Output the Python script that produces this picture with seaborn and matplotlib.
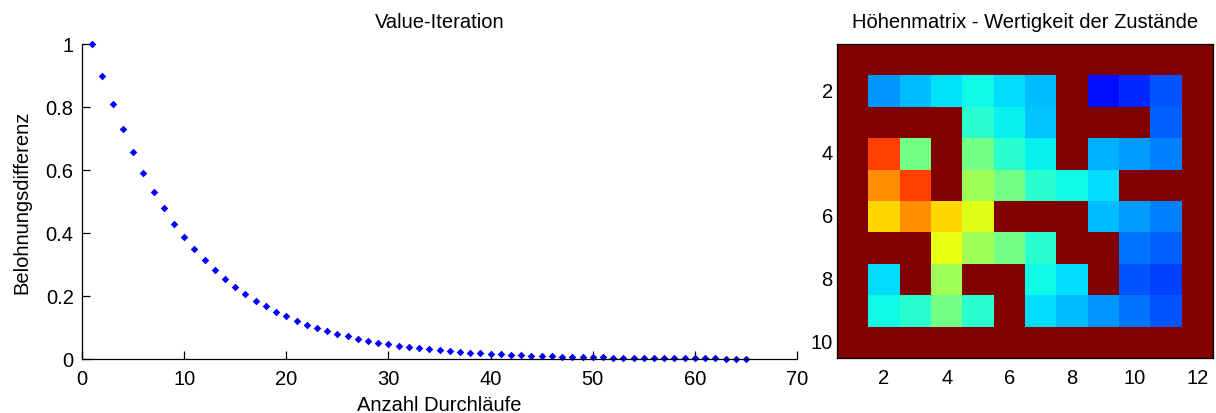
import numpy as np
import pandas as pd
import matplotlib
matplotlib.use("Agg")
import matplotlib.pyplot as plt
import seaborn as sns

# ---- Data: left chart (reward difference per iteration) ----
iterations = list(range(1, 66))
reward_diff = [1.0, 0.9, 0.81, 0.73, 0.656, 0.59, 0.53, 0.478, 0.43, 0.387,
               0.349, 0.314, 0.282, 0.254, 0.229, 0.206, 0.185, 0.167, 0.150, 0.135,
               0.122, 0.109, 0.098, 0.089, 0.080, 0.072, 0.065, 0.058, 0.052, 0.047,
               0.042, 0.038, 0.034, 0.031, 0.028, 0.025, 0.023, 0.020, 0.018, 0.016,
               0.015, 0.013, 0.012, 0.011, 0.0097, 0.0087, 0.0079, 0.0071, 0.0064, 0.0057,
               0.0052, 0.0046, 0.0042, 0.0038, 0.0034, 0.0031, 0.0027, 0.0025, 0.0022, 0.0020,
               0.0018, 0.0016, 0.0015, 0.0013, 0.0012]

# ---- Data: right chart (value matrix, walls = 1.0) ----
W = 1.0
row1 = [W, W, W, W, W, W, W, W, W, W, W, W]
row2 = [W, 0.27, 0.31, 0.345, 0.37, 0.34, 0.31, W, 0.14, 0.165, 0.21, W]
row3 = [W, W, W, W, 0.40, 0.36, 0.32, W, W, W, 0.22, W]
row4 = [W, 0.84, 0.49, W, 0.49, 0.40, 0.36, W, 0.30, 0.28, 0.25, W]
row5 = [W, 0.76, 0.84, W, 0.545, 0.49, 0.40, 0.37, 0.34, W, W, W]
row6 = [W, 0.68, 0.76, 0.68, 0.62, W, W, W, 0.31, 0.28, 0.25, W]
row7 = [W, W, W, 0.63, 0.545, 0.49, 0.40, W, W, 0.24, 0.22, W]
row8 = [W, 0.34, W, 0.545, W, W, 0.37, 0.34, W, 0.21, 0.19, W]
row9 = [W, 0.37, 0.40, 0.49, 0.40, W, 0.34, 0.31, 0.27, 0.24, 0.21, W]
row10 = [W, W, W, W, W, W, W, W, W, W, W, W]
matrix_rows = [row1, row2, row3, row4, row5, row6, row7, row8, row9, row10]

left_xticks = [0, 10, 20, 30, 40, 50, 60, 70]
left_yticks = [0, 0.2, 0.4, 0.6, 0.8, 1.0]
left_yticklabels = ["0", "0.2", "0.4", "0.6", "0.8", "1"]
right_xticklabels = ["2", "4", "6", "8", "10", "12"]
right_yticklabels = ["2", "4", "6", "8", "10"]

sns.set_theme(style="ticks")
plt.rcParams['font.family'] = ['Liberation Sans', 'DejaVu Sans']
FS = 14.5

fig = plt.figure(figsize=(12.16, 4.14), dpi=100)

# ---- Left chart ----
ax1 = fig.add_axes([82/1216, 54/414, 715/1216, 315/414])
df = pd.DataFrame({"Durchlauf": iterations, "Diff": reward_diff})
sns.scatterplot(data=df, x="Durchlauf", y="Diff", ax=ax1, marker="D",
                color=(0, 0, 1), s=15, linewidth=0, legend=False, clip_on=False)
ax1.set_xlim(0, 70)
ax1.set_ylim(0, 1)
ax1.set_xticks(left_xticks)
ax1.set_xticklabels([str(t) for t in left_xticks])
ax1.set_yticks(left_yticks)
ax1.set_yticklabels(left_yticklabels)
for s in ["top", "right"]:
    ax1.spines[s].set_visible(False)
for s in ["left", "bottom"]:
    ax1.spines[s].set_color("black")
    ax1.spines[s].set_linewidth(0.9)
ax1.tick_params(direction="in", length=6, width=0.9, colors="black",
                labelsize=FS)
ax1.tick_params(axis="x", pad=7)
ax1.tick_params(axis="y", pad=6)
ax1.set_xlabel("Anzahl Durchläufe", fontsize=FS, color="black", labelpad=5)
ax1.set_ylabel("Belohnungsdifferenz", fontsize=FS, color="black", labelpad=10)
ax1.set_title("Value-Iteration", fontsize=FS, color="black", pad=12)

# ---- Right chart ----
ax2 = fig.add_axes([837/1216, 55/414, 376/1216, 314/414])
mat = pd.DataFrame(matrix_rows, index=range(1, 11), columns=range(1, 13))
sns.heatmap(mat, cmap="jet", vmin=0, vmax=1, cbar=False, ax=ax2)
ax2.set_xticks([1.5, 3.5, 5.5, 7.5, 9.5, 11.5])
ax2.set_xticklabels(right_xticklabels, rotation=0)
ax2.set_yticks([1.5, 3.5, 5.5, 7.5, 9.5])
ax2.set_yticklabels(right_yticklabels, rotation=0)
ax2.set_xlabel("")
ax2.set_ylabel("")
for s in ["top", "right", "left", "bottom"]:
    ax2.spines[s].set_visible(True)
    ax2.spines[s].set_color("black")
    ax2.spines[s].set_linewidth(0.9)
ax2.tick_params(direction="in", length=3.5, width=0.9, colors="black",
                labelsize=FS, top=True, right=True, bottom=True, left=True)
ax2.tick_params(axis="x", pad=7)
ax2.tick_params(axis="y", pad=3)
ax2.set_title("Höhenmatrix - Wertigkeit der Zustände", fontsize=FS,
              color="black", pad=12)

fig.savefig("out.png", dpi=100, facecolor="white")
